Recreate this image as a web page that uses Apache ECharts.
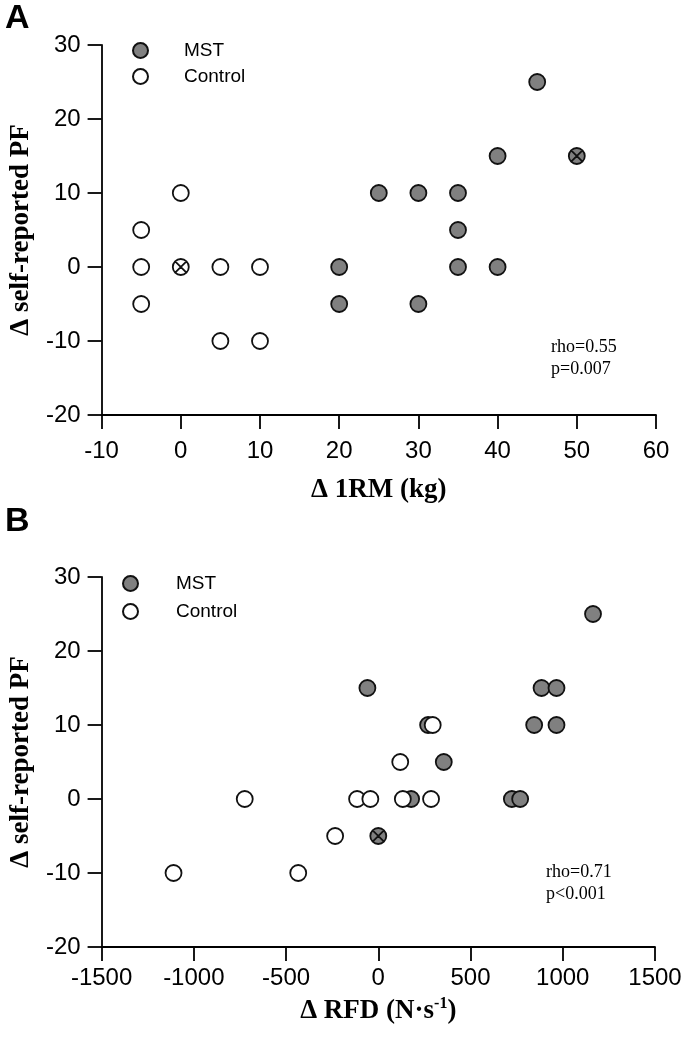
<!DOCTYPE html>
<html>
<head>
<meta charset="utf-8">
<script src="https://cdn.jsdelivr.net/npm/echarts@6/dist/echarts.min.js"></script>
<style>
html,body{margin:0;padding:0;background:#fff;}
#chart{width:685px;height:1044px;}
</style>
</head>
<body>
<div id="chart"></div>
<script>
// ---- Panel A data: x = Δ 1RM (kg), y = Δ self-reported PF ----
const mstA = [[20,0],[20,-5],[25,10],[30,10],[30,-5],[35,10],[35,5],[35,0],[40,15],[40,0],[45,25]];
const mstA_crossed = [[50,15]];
const ctrlA = [[-5,5],[-5,0],[-5,-5],[0,10],[5,0],[5,-10],[10,0],[10,-10]];
const ctrlA_crossed = [[0,0]];

// ---- Panel B data: x = Δ RFD (N·s-1), y = Δ self-reported PF ----
const mstB = [[1164,25],[-59,15],[885,15],[966,15],[270,10],[845,10],[966,10],[355,5],[178,0],[724,0],[769,0]];
const mstB_crossed = [[0,-5]];
const ctrlB = [[-1110,-10],[-434,-10],[-724,0],[-115,0],[-43,0],[133,0],[286,0],[-234,-5],[119,5],[295,10]];
const ctrlB_crossed = [];

// ---- tick/axis settings ----
const xTicksA = {min:-10, max:60, interval:10};
const xTicksB = {min:-1500, max:1500, interval:500};
const yTicks = {min:-20, max:30, interval:10};
const statsA = ['rho=0.55','p=0.007'];
const statsB = ['rho=0.71','p<0.001'];

const crossPath = 'path://M0,50 A50,50 0 1,1 100,50 A50,50 0 1,1 0,50 Z M14.6,14.6 L85.4,85.4 M85.4,14.6 L14.6,85.4';
const GRAY = '#808080';
const EDGE = '#111';
const SANS = 'Liberation Sans, Arial, sans-serif';
const SERIF = 'Liberation Serif, Times New Roman, serif';

function buildData(plain, crossed){
  return plain.map(p => p.slice()).concat(crossed.map(p => ({value:p.slice(), symbol:crossPath})));
}

function axisCommon(){
  return {
    type:'value',
    axisLine:{show:true, onZero:false, lineStyle:{color:'#000', width:1.8}},
    axisTick:{show:true, inside:false, length:14, lineStyle:{color:'#000', width:1.8}},
    splitLine:{show:false},
    axisLabel:{color:'#000', fontSize:24, fontFamily:SANS, formatter:v => String(v)}
  };
}

function xAxis(grid, ticks, name, nameGap, labelMargin){
  const a = axisCommon();
  Object.assign(a, ticks);
  a.gridIndex = grid;
  a.name = name;
  a.nameLocation = 'middle';
  a.nameGap = nameGap;
  a.nameTextStyle = {color:'#000', fontSize:27, fontWeight:'bold', fontFamily:SERIF,
    rich:{sup:{fontSize:16, fontWeight:'bold', fontFamily:SERIF, color:'#000', padding:[0,0,14,0]}}};
  a.axisLabel.margin = labelMargin;
  return a;
}
function yAxis(grid){
  const a = axisCommon();
  Object.assign(a, yTicks);
  a.gridIndex = grid;
  a.name = 'Δ self-reported PF';
  a.nameLocation = 'middle';
  a.nameGap = 62;
  a.nameTextStyle = {color:'#000', fontSize:27, fontWeight:'bold', fontFamily:SERIF};
  a.axisLabel.margin = 21;
  return a;
}

function scatter(name, grid, data, fill){
  return {
    type:'scatter', name:name, xAxisIndex:grid, yAxisIndex:grid,
    symbol:'circle', symbolSize:16,
    itemStyle:{color:fill, borderColor:EDGE, borderWidth:1.8, opacity:1},
    emphasis:{disabled:true},
    data:data
  };
}

function legend(left, top, gap, textPad){
  return {
    left:left, top:top, orient:'vertical', itemGap:gap,
    itemWidth:15, itemHeight:15, icon:'circle',
    selectedMode:false,
    data:['MST','Control'],
    textStyle:{color:'#000', fontSize:19, fontFamily:SANS, padding:[0,0,0,textPad]}
  };
}

function statText(lines, left, top){
  return {
    type:'text', left:left, top:top,
    style:{text:lines.join('\n'), font:'18px ' + SERIF, fill:'#000', lineHeight:22}
  };
}

const option = {
  animation:false,
  backgroundColor:'#fff',
  grid:[
    {left:100, top:45, width:556, height:370},
    {left:100, top:577, width:555, height:370}
  ],
  xAxis:[
    xAxis(0, xTicksA, 'Δ 1RM (kg)', 62, 24),
    xAxis(1, xTicksB, 'Δ RFD (N·s{sup|-1})', 49, 19)
  ],
  yAxis:[yAxis(0), yAxis(1)],
  legend:[legend(127, 36, 7, 31), legend(117, 569, 9, 33)],
  series:[
    scatter('MST', 0, buildData(mstA, mstA_crossed), GRAY),
    scatter('Control', 0, buildData(ctrlA, ctrlA_crossed), '#fff'),
    scatter('MST', 1, buildData(mstB, mstB_crossed), GRAY),
    scatter('Control', 1, buildData(ctrlB, ctrlB_crossed), '#fff')
  ],
  graphic:[
    {type:'text', left:5, top:2, style:{text:'A', font:'bold 34px ' + SANS, fill:'#000'}},
    {type:'text', left:5, top:505, style:{text:'B', font:'bold 34px ' + SANS, fill:'#000'}},
    statText(statsA, 551, 336),
    statText(statsB, 546, 861)
  ]
};

const chart = echarts.init(document.getElementById('chart'), null, {renderer:'canvas'});
chart.setOption(option);
</script>
</body>
</html>
